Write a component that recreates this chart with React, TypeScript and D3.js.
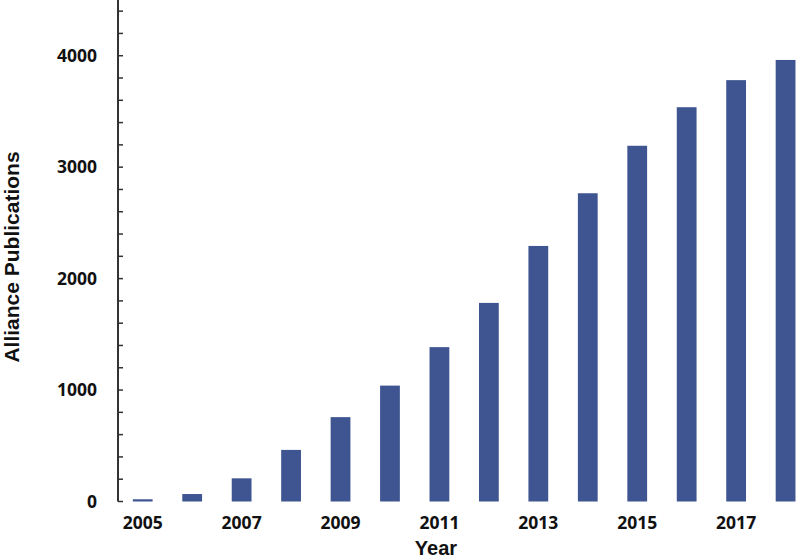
import React from "react";
import * as d3 from "d3";

const years = [2005, 2006, 2007, 2008, 2009, 2010, 2011, 2012, 2013, 2014, 2015, 2016, 2017, 2018];
const publications = [20, 67, 208, 463, 757, 1040, 1385, 1782, 2293, 2766, 3192, 3538, 3781, 3962];
const yTicks = [0, 1000, 2000, 3000, 4000];
const xTickLabels = [2005, 2007, 2009, 2011, 2013, 2015, 2017];

const W = 800;
const H = 560;
const axisX = 118;
const y0 = 501.5;

export default function App() {
  const x = d3
    .scaleBand<number>()
    .domain(years)
    .range([axisX, axisX + 14 * 49.45])
    .paddingInner(0.6)
    .paddingOuter(0.3);
  const y = d3.scaleLinear().domain([0, 4500]).range([y0, 0]);
  const minor = d3.range(0, 4600, 200);
  const tickFont = "'Open Sans', sans-serif";
  const titleFont = "'Liberation Sans', Arial, sans-serif";

  return (
    <svg
      width={W}
      height={H}
      style={{ position: "absolute", left: 0, top: 0, background: "#fff" }}
    >
      {years.map((yr, i) => (
        <rect
          key={yr}
          x={x(yr)}
          y={y(publications[i])}
          width={x.bandwidth()}
          height={y0 - y(publications[i])}
          fill="#3f5592"
        />
      ))}
      <line x1={axisX} x2={axisX} y1={0} y2={y0} stroke="#333" strokeWidth={2} />
      {minor.map((v) => (
        <line key={v} x1={axisX} x2={axisX + 5} y1={y(v)} y2={y(v)} stroke="#333" strokeWidth={1.5} />
      ))}
      {yTicks.map((v) => (
        <text
          key={v}
          x={97}
          y={y(v)}
          dy="0.36em"
          textAnchor="end"
          fontFamily={tickFont}
          fontWeight={700}
          fontSize={17.5}
          fill="#111"
        >
          {v}
        </text>
      ))}
      {xTickLabels.map((yr) => (
        <text
          key={yr}
          x={(x(yr) as number) + x.bandwidth() / 2}
          y={529}
          textAnchor="middle"
          fontFamily={tickFont}
          fontWeight={700}
          fontSize={17.5}
          fill="#111"
        >
          {yr}
        </text>
      ))}
      <text
        x={436}
        y={555}
        textAnchor="middle"
        fontFamily={titleFont}
        fontWeight={700}
        fontSize={20}
        fill="#111"
      >
        Year
      </text>
      <text
        transform={`translate(19,257) rotate(-90)`}
        textAnchor="middle"
        fontFamily={titleFont}
        fontWeight={700}
        fontSize={21}
        fill="#111"
      >
        Alliance Publications
      </text>
    </svg>
  );
}
